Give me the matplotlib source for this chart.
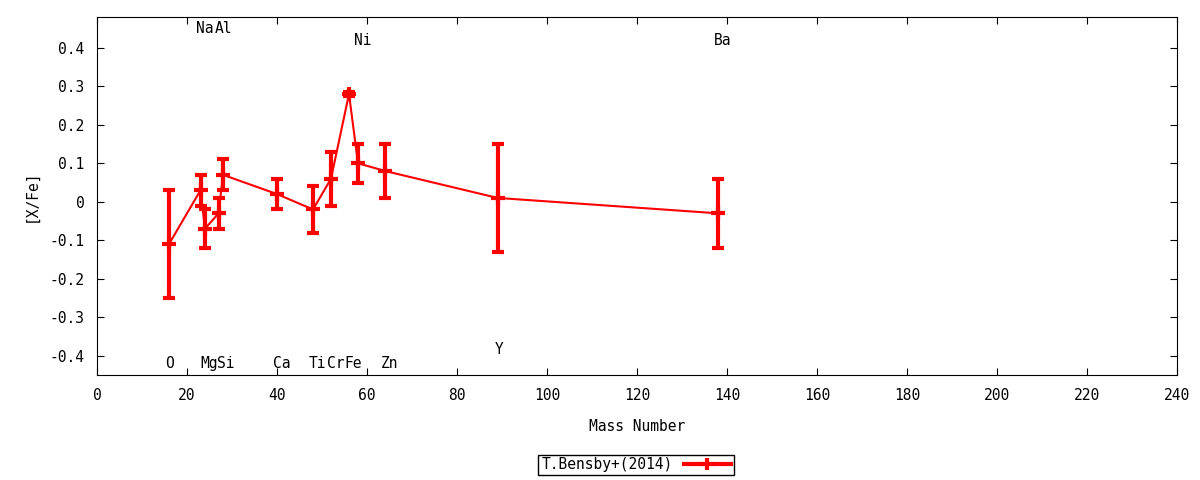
import matplotlib
matplotlib.use('Agg')
import matplotlib.pyplot as plt

plt.rcParams['font.family'] = ['DejaVu Sans Mono', 'DejaVu Sans']

mass = [16, 23, 24, 27, 28, 40, 48, 52, 56, 58, 64, 89, 138]
xfe = [-0.11, 0.03, -0.07, -0.03, 0.07, 0.02, -0.02, 0.06, 0.28, 0.10, 0.08, 0.01, -0.03]
err = [0.14, 0.04, 0.05, 0.04, 0.04, 0.04, 0.06, 0.07, 0.005, 0.05, 0.07, 0.14, 0.09]

# element labels: name, x, y
elements = ['O', 'Na', 'Mg', 'Al', 'Si', 'Ca', 'Ti', 'Cr', 'Fe', 'Ni', 'Zn', 'Y', 'Ba']
label_x = [16, 24, 25, 28, 28.7, 41, 49, 53, 57, 59, 65, 89.3, 139]
label_y = [-0.42, 0.45, -0.42, 0.45, -0.42, -0.42, -0.42, -0.42, -0.42, 0.42, -0.42, -0.385, 0.42]

fig = plt.figure(figsize=(12, 4.8), dpi=100)
ax = fig.add_axes([97 / 1200, 1 - 375 / 480, 1080 / 1200, 358 / 480])

ax.errorbar(mass, xfe, yerr=err, color='red', lw=1.5, elinewidth=3,
            capsize=4.5, capthick=3, marker='+', ms=10, mew=3)

# legend sample drawn like gnuplot's (horizontal bar with end caps)
proxy = ax.errorbar([], [], xerr=[], color='red', lw=3, elinewidth=3,
                    capsize=4, capthick=3, marker='|', ms=8, mew=3,
                    label='T.Bensby+(2014)')

for name, lx, ly in zip(elements, label_x, label_y):
    ax.text(lx, ly, name, ha='center', va='center', fontsize=10.5)

ax.set_xlim(0, 240)
ax.set_ylim(-0.45, 0.48)
ax.set_xticks(range(0, 241, 20))
ax.set_yticks([-0.4, -0.3, -0.2, -0.1, 0, 0.1, 0.2, 0.3, 0.4])
ax.set_yticklabels(['-0.4', '-0.3', '-0.2', '-0.1', '0', '0.1', '0.2', '0.3', '0.4'])
ax.tick_params(direction='in', top=True, right=True, length=5, labelsize=10.5, pad=9)
ax.set_xlabel('Mass Number', fontsize=10.5, labelpad=12)
ax.set_ylabel('[X/Fe]', fontsize=10.5, labelpad=8)

leg = fig.legend(handles=[proxy], loc='center',
                 bbox_to_anchor=(636 / 1200, 1 - 465 / 480),
                 markerfirst=False, fancybox=False, framealpha=1,
                 edgecolor='black', fontsize=10.5, borderpad=0.2,
                 handlelength=3.2)
leg.get_frame().set_linewidth(1)

fig.savefig('out.png', dpi=100)
